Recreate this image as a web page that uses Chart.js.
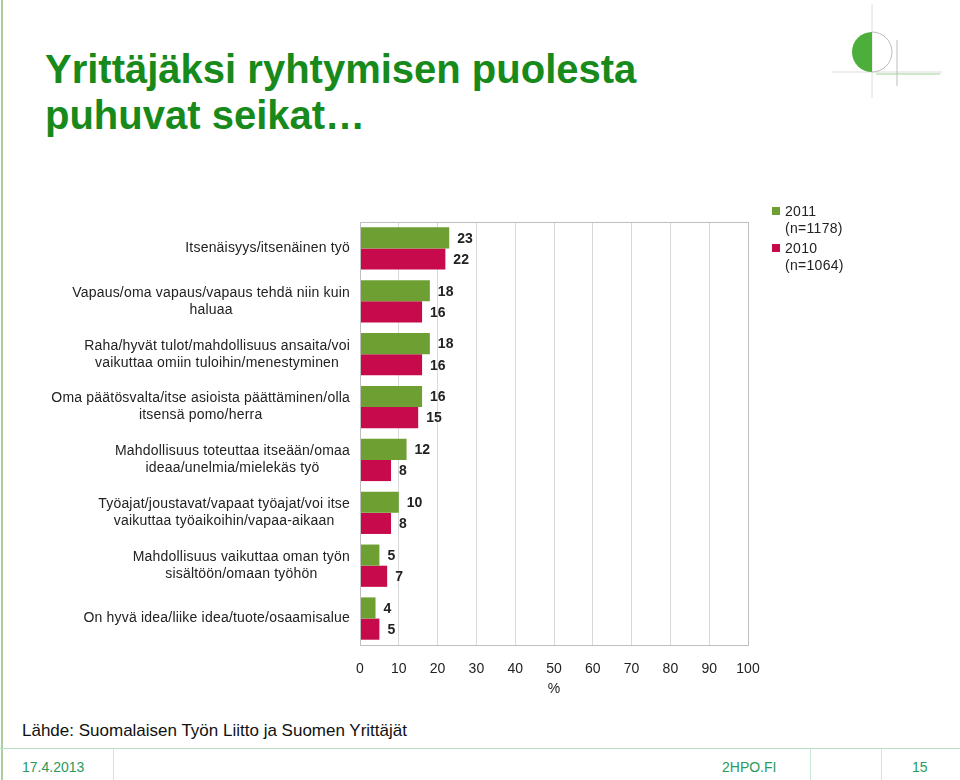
<!DOCTYPE html>
<html>
<head>
<meta charset="utf-8">
<script src="https://cdn.jsdelivr.net/npm/chart.js@4.4.1/dist/chart.umd.min.js"></script>
<style>
  body { margin: 0; background: #fff; font-family: 'Liberation Sans', Arial, sans-serif; }
  #page { position: relative; width: 960px; height: 780px; overflow: hidden; }
  #edge { position: absolute; left: 1px; top: 0; width: 2px; height: 780px; background: #a9cf9c; }
  #title { position: absolute; left: 45px; top: 46px; margin: 0; font-size: 40px; line-height: 46px;
           font-weight: bold; color: #178a1b; }
  #logo { position: absolute; left: 828px; top: 0; }
  #chartBox { position: absolute; left: 0; top: 190px; width: 960px; height: 520px; }
  #legend { position: absolute; left: 772px; top: 203px; font-size: 14px; letter-spacing: 0.3px; color: #222; line-height: 17px; }
  #legend .item { position: relative; padding-left: 13px; margin-bottom: 3px; }
  #legend .sw { position: absolute; left: 0; top: 4px; width: 8px; height: 8px; }
  #source { position: absolute; left: 22px; top: 721px; font-size: 17px; color: #111; }
  #foot { position: absolute; left: 0; top: 748px; width: 960px; height: 32px; border-top: 1px solid #b9e0c4; }
  #foot span { position: absolute; top: 10px; font-size: 14px; color: #2a9a5a; }
  .sep { position: absolute; top: 0; width: 1px; height: 32px; background: #cde9d5; }
</style>
</head>
<body>
<div id="page">
  <div id="edge"></div>
  <h1 id="title">Yrittäjäksi ryhtymisen puolesta<br>puhuvat seikat…</h1>
  <svg id="logo" width="125" height="102">
    <line x1="44" y1="4" x2="44" y2="98" stroke="#dcdcdc" stroke-width="1"/>
    <line x1="4" y1="72" x2="114" y2="72" stroke="#dcdcdc" stroke-width="1"/>
    <path d="M44 32 A20 20 0 0 0 44 72 Z" fill="#4caf3c"/>
    <path d="M44 32 A20 20 0 0 1 64 52 A20 20 0 0 1 44 72" fill="none" stroke="#bdbdbd" stroke-width="1"/>
    <line x1="69" y1="40" x2="69" y2="86" stroke="#bdbdbd" stroke-width="1"/>
    <line x1="48" y1="74" x2="112" y2="74" stroke="#9fcf95" stroke-width="1"/>
  </svg>
  <div id="chartBox"><canvas id="barChartArea"></canvas></div>
  <div id="legend">
    <div class="item"><span class="sw" style="background:#6e9f33"></span>2011<br>(n=1178)</div>
    <div class="item"><span class="sw" style="background:#c70a4c"></span>2010<br>(n=1064)</div>
  </div>
  <div id="source">Lähde: Suomalaisen Työn Liitto ja Suomen Yrittäjät</div>
  <div id="foot">
    <span style="left:22px">17.4.2013</span>
    <div class="sep" style="left:113px"></div>
    <span style="left:722px">2HPO.FI</span>
    <div class="sep" style="left:810px"></div>
    <div class="sep" style="left:881px"></div>
    <span style="left:912px">15</span>
  </div>
</div>
<script>
const reasons = [
  ['Itsenäisyys/itsenäinen työ'],
  ['Vapaus/oma vapaus/vapaus tehdä niin kuin', 'haluaa'],
  ['Raha/hyvät tulot/mahdollisuus ansaita/voi', 'vaikuttaa omiin tuloihin/menestyminen'],
  ['Oma päätösvalta/itse asioista päättäminen/olla', 'itsensä pomo/herra'],
  ['Mahdollisuus toteuttaa itseään/omaa', 'ideaa/unelmia/mielekäs työ'],
  ['Työajat/joustavat/vapaat työajat/voi itse', 'vaikuttaa työaikoihin/vapaa-aikaan'],
  ['Mahdollisuus vaikuttaa oman työn', 'sisältöön/omaan työhön'],
  ['On hyvä idea/liike idea/tuote/osaamisalue']
];
const values2011 = [23, 18, 18, 16, 12, 10, 5, 4];
const values2010 = [22, 16, 16, 15, 8, 8, 7, 5];
const xTicks = [0, 10, 20, 30, 40, 50, 60, 70, 80, 90, 100];

const labelFont = "14px 'Liberation Sans', Arial, sans-serif";

// frame round the plot area
const frame = {
  id: 'frame',
  afterDraw(chart) {
    const { ctx, chartArea: a } = chart;
    ctx.save();
    ctx.strokeStyle = '#bfbfbf';
    ctx.lineWidth = 1;
    ctx.strokeRect(Math.round(a.left) + 0.5, Math.round(a.top) + 0.5, Math.round(a.width), Math.round(a.height));
    ctx.restore();
  }
};

// category names, each block centred on its widest line, right edge near the axis
const categoryNames = {
  id: 'categoryNames',
  afterDraw(chart) {
    const { ctx } = chart;
    const y = chart.scales.y;
    ctx.save();
    ctx.font = labelFont;
    ctx.letterSpacing = '0.2px';
    ctx.fillStyle = '#222';
    ctx.textAlign = 'center';
    ctx.textBaseline = 'middle';
    reasons.forEach((lines, i) => {
      const w = Math.max(...lines.map(l => ctx.measureText(l).width));
      const cx = y.right - 10 - w / 2;
      const cy = y.getPixelForValue(i);
      const lh = 17;
      lines.forEach((l, j) => {
        ctx.fillText(l, cx, cy + (j - (lines.length - 1) / 2) * lh);
      });
    });
    ctx.restore();
  }
};

// value labels just past the bar ends
const barValues = {
  id: 'barValues',
  afterDatasetsDraw(chart) {
    const { ctx } = chart;
    ctx.save();
    ctx.font = "bold 14px 'Liberation Sans', Arial, sans-serif";
    ctx.fillStyle = '#222';
    ctx.textBaseline = 'middle';
    chart.data.datasets.forEach((ds, di) => {
      chart.getDatasetMeta(di).data.forEach((bar, i) => {
        ctx.fillText(ds.data[i], bar.x + 8, bar.y + 1);
      });
    });
    ctx.restore();
  }
};

const ctx = document.getElementById('barChartArea');
const barChart = new Chart(ctx, {
  type: 'bar',
  data: {
    labels: reasons.map(r => r.join(' ')),
    datasets: [{
      label: '2011 (n=1178)',
      data: values2011,
      backgroundColor: '#6e9f33',
      categoryPercentage: 0.8,
      barPercentage: 1.0
    }, {
      label: '2010 (n=1064)',
      data: values2010,
      backgroundColor: '#c70a4c',
      categoryPercentage: 0.8,
      barPercentage: 1.0
    }]
  },
  options: {
    indexAxis: 'y',
    responsive: true,
    maintainAspectRatio: false,
    animation: false,
    layout: {
      padding: { top: 32, right: 212, bottom: 10, left: 0 }
    },
    plugins: {
      legend: { display: false },
      tooltip: { enabled: false }
    },
    scales: {
      x: {
        min: 0,
        max: 100,
        afterBuildTicks(scale) {
          scale.ticks = xTicks.map(v => ({ value: v }));
        },
        afterFit(scale) { scale.height = 55; },
        grid: { color: '#d9d9d9', drawTicks: false },
        border: { color: '#bfbfbf' },
        ticks: {
          padding: 16,
          color: '#222',
          font: { family: "'Liberation Sans', Arial, sans-serif", size: 14 }
        },
        title: {
          display: true,
          text: '%',
          color: '#222',
          padding: { top: 0, bottom: 2 },
          font: { family: "'Liberation Sans', Arial, sans-serif", size: 14 }
        }
      },
      y: {
        afterFit(scale) { scale.width = 360; },
        grid: { display: false, drawTicks: false },
        border: { color: '#bfbfbf' },
        ticks: { display: false }
      }
    }
  },
  plugins: [frame, categoryNames, barValues]
});
</script>
</body>
</html>
